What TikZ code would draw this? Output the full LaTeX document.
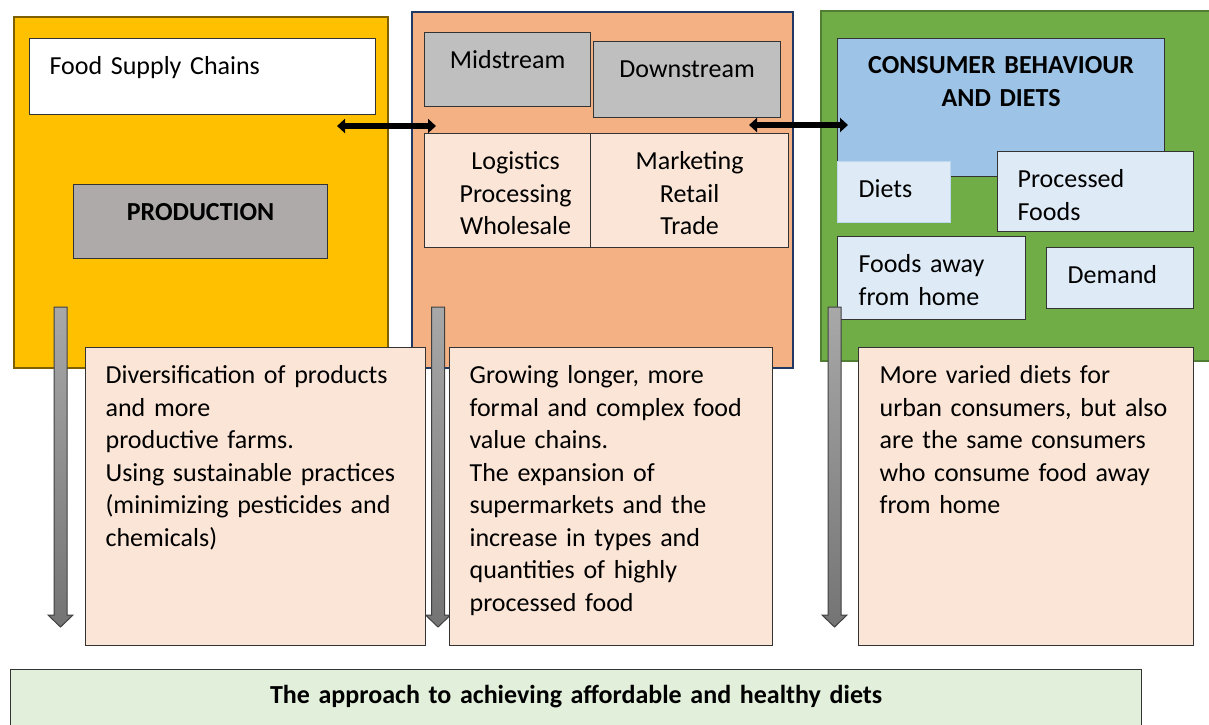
\documentclass[tikz,border=0pt]{standalone}
\usepackage{fontspec}
\setmainfont{Carlito}
\usetikzlibrary{arrows.meta}

\definecolor{prodfill}{HTML}{FFC000}
\definecolor{prodline}{HTML}{7F6000}
\definecolor{midfill}{HTML}{F4B183}
\definecolor{midline}{HTML}{1F3864}
\definecolor{confill}{HTML}{70AD47}
\definecolor{conline}{HTML}{507E32}
\definecolor{prodgray}{HTML}{AEAAAA}
\definecolor{streamgray}{HTML}{BFBFBF}
\definecolor{peach}{HTML}{FBE5D6}
\definecolor{skyblue}{HTML}{9DC3E6}
\definecolor{paleblue}{HTML}{DEEBF7}
\definecolor{paleline}{HTML}{BDD7EE}
\definecolor{palegreen}{HTML}{E2EFDA}
\definecolor{arrowtop}{HTML}{A8A8A8}
\definecolor{arrowbot}{HTML}{747474}

\begin{document}
\begin{tikzpicture}[
  x=1pt,
  y=-1pt,
  line join=miter,
  panel/.style={draw, line width=1.6pt, anchor=north west, inner sep=0pt},
  cell/.style={draw=black!80, line width=1.2pt, anchor=north west,
    inner ysep=0pt, inner xsep=20pt, align=left,
    font=\fontsize{26}{32.5}\selectfont},
  title/.style={cell, align=center, font=\bfseries\fontsize{26}{33}\selectfont},
  cellsize/.style n args={3}{text width=#1, text height=#2, text depth=#3},
  link/.style={line width=6pt,
    {Triangle[length=8pt,width=14pt]}-{Triangle[length=8pt,width=14pt]}}
]

\useasboundingbox (0,0) rectangle (1209,724);

% Three stage panels
\node[panel, fill=prodfill, draw=prodline, minimum width=374pt, minimum height=351pt]
  (prodpanel) at (13,16) {};
\node[panel, fill=midfill, draw=midline, minimum width=381pt, minimum height=356pt]
  (midpanel) at (411,11) {};
\node[panel, fill=confill, draw=conline, minimum width=400pt, minimum height=350pt]
  (conpanel) at (820,10) {};

% Production panel
\node[cell, fill=white, cellsize={306pt}{36pt}{40pt}] (chains) at (29,38)
  {Food Supply Chains};
\node[title, fill=prodgray, inner xsep=10pt, cellsize={234pt}{36pt}{38pt}]
  (production) at (73,184) {PRODUCTION};

% Midstream and downstream panel
\node[cell, align=center, fill=streamgray, inner xsep=10pt, cellsize={146pt}{36pt}{38pt}]
  (midstream) at (424,32) {Midstream};
\node[cell, align=center, fill=streamgray, inner xsep=10pt, cellsize={167pt}{36pt}{40pt}]
  (downstream) at (593,41) {Downstream};
\node[cell, align=center, fill=peach, inner xsep=10pt, cellsize={146pt}{36pt}{78pt}]
  (logistics) at (424,133) {\hspace*{16pt}Logistics\\\hspace*{16pt}Processing\\\hspace*{16pt}Wholesale};
\node[cell, align=center, fill=peach, inner xsep=10pt, cellsize={178pt}{36pt}{78pt}]
  (marketing) at (590,133) {Marketing\\Retail\\Trade};

% Consumer panel
\node[title, fill=skyblue, inner xsep=10pt, cellsize={307pt}{35pt}{103pt}]
  (consumer) at (837,38) {CONSUMER BEHAVIOUR\\AND DIETS};
\node[cell, fill=paleblue, draw=paleline, inner xsep=21pt, cellsize={71pt}{36pt}{25pt}]
  (diets) at (837,161) {Diets};
\node[cell, fill=paleblue, cellsize={156pt}{36pt}{44pt}]
  (processed) at (997,151) {Processed\\Foods};
\node[cell, fill=paleblue, inner xsep=21pt, cellsize={146pt}{36pt}{47pt}]
  (away) at (837,236) {Foods away\\from home};
\node[cell, fill=paleblue, inner xsep=21pt, cellsize={105pt}{36pt}{25pt}]
  (demand) at (1046,247) {Demand};

% Links between the panels
\coordinate (linkA1) at (337,126);
\coordinate (linkA2) at (436,126);
\coordinate (linkB1) at (749,125);
\coordinate (linkB2) at (848,125);
\draw[link] (linkA1) -- (linkA2);
\draw[link] (linkB1) -- (linkB2);

% Downward gray arrows
\foreach \x in {60.5, 438, 834.5}{
  \shade[top color=arrowtop, bottom color=arrowbot, draw=black!75, line width=1pt]
    (\x-6.5,307) -- (\x+6.5,307) -- (\x+6.5,615) -- (\x+12.5,615)
    -- (\x,627) -- (\x-12.5,615) -- (\x-6.5,615) -- cycle;
}

% Notes under each panel
\node[cell, fill=peach, cellsize={300pt}{36pt}{262pt}] (prodnote) at (85,347)
  {Diversification of products\\and more\\productive farms.\\Using sustainable practices\\(minimizing pesticides and\\chemicals)};
\node[cell, fill=peach, cellsize={283pt}{36pt}{262pt}] (midnote) at (449,347)
  {Growing longer, more\\formal and complex food\\value chains.\\The expansion of\\supermarkets and the\\increase in types and\\quantities of highly\\processed food};
\node[cell, fill=peach, inner xsep=21pt, cellsize={293pt}{36pt}{262pt}] (connote) at (858,347)
  {More varied diets for\\\mbox{urban consumers, but also}\\are the same consumers\\who consume food away\\from home};

% Overall approach
\node[title, fill=palegreen, inner xsep=10pt, font=\bfseries\fontsize{26}{31}\selectfont,
  cellsize={1111pt}{34pt}{40pt}] (approach) at (10,669)
  {The approach to achieving affordable and healthy diets};

\end{tikzpicture}
\end{document}
